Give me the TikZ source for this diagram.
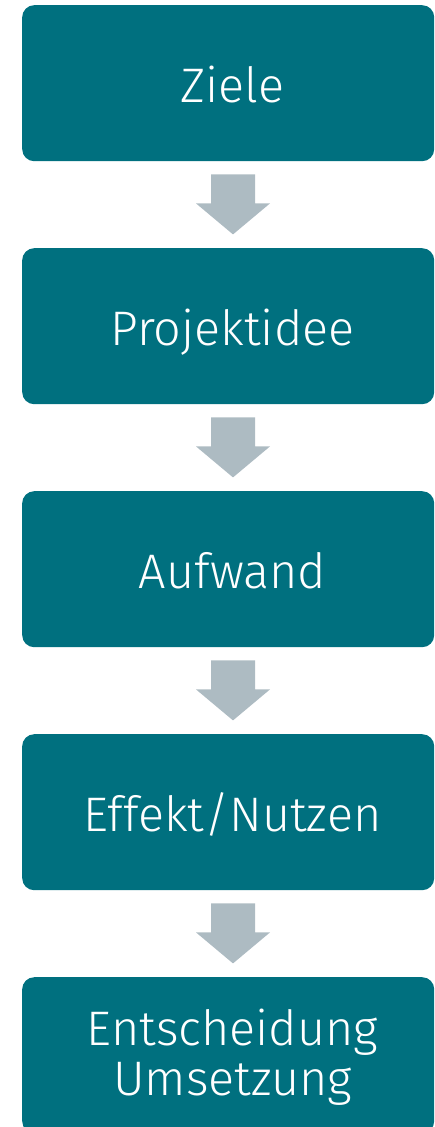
\documentclass[tikz,border=0pt]{standalone}
\usepackage{fontspec}
\setmainfont{Fira Sans Light}
\usetikzlibrary{calc}
\definecolor{teal}{HTML}{00707F}
\definecolor{arrowgray}{HTML}{ADBBC2}
\begin{document}
\begin{tikzpicture}[x=1pt,y=-1pt,
  stepbox/.style={fill=teal, rounded corners=12pt, minimum width=412pt, minimum height=156pt, inner sep=0pt, anchor=north west},
  steptext/.style={text=white, font=\fontsize{48.5}{50}\selectfont, anchor=base, align=center, inner sep=0pt},
  blockarrow/.style={fill=arrowgray}]
\useasboundingbox (0,0) rectangle (435,1127);
\clip (0,0) rectangle (435,1127);
\foreach \i/\y in {1/5,2/248,3/491,4/734,5/977}{
  \node[stepbox] (b\i) at (22,\y) {};
}
\node[steptext] (t1) at (232.5,102) {Ziele};
\node[steptext] (t2) at (232.5,345) {Projektidee};
\node[steptext] (t3) at (232.5,588) {Aufwand};
\node[steptext] (t4) at (232.5,831) {Effekt/Nutzen};
\node[steptext] (t5) at (232.5,1045) {Entscheidung};
\node[steptext] (t6) at (232.5,1095) {Umsetzung};
\foreach \i/\j in {1/2,2/3,3/4,4/5}{
  \coordinate (s\i) at ($(b\i.south west)+(189,13)$);
  \fill[blockarrow] (s\i) -- ++(0,29) -- ++(-15,0) -- ++(37,31) -- ++(37,-31) -- ++(-15,0) -- ++(0,-29) -- cycle;
}
\end{tikzpicture}
\end{document}
